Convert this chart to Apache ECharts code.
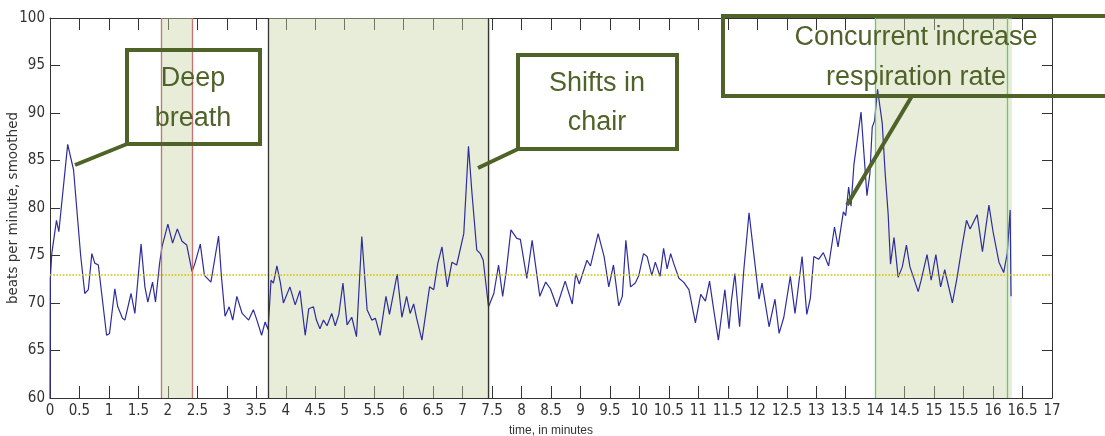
<!DOCTYPE html>
<html>
<head>
<meta charset="utf-8">
<script src="https://cdn.jsdelivr.net/npm/echarts@6/dist/echarts.min.js"></script>
<style>
  html, body { margin: 0; padding: 0; background: #fff; }
  #chart { width: 1105px; height: 436px; }
</style>
</head>
<body>
<div id="chart"></div>
<script>
// heart rate trace (minutes / beats per minute)
const timeMin = [
  0, 0.005, 0.03, 0.11, 0.15, 0.30, 0.40, 0.48, 0.52, 0.59, 0.65, 0.71, 0.76, 0.82, 0.96, 1.01,
  1.10, 1.15, 1.23, 1.27, 1.375, 1.44, 1.545, 1.61, 1.66, 1.74, 1.79, 1.86, 1.90, 2.00, 2.08,
  2.16, 2.24, 2.32, 2.41, 2.46, 2.55, 2.62, 2.73, 2.86, 2.91, 2.97, 3.04, 3.10, 3.17, 3.26,
  3.37, 3.45, 3.51, 3.59, 3.65, 3.70, 3.75, 3.79, 3.85, 3.91, 3.96, 4.07, 4.16, 4.24, 4.33,
  4.39, 4.47, 4.52, 4.58, 4.64, 4.70, 4.78, 4.84, 4.90, 4.97, 5.04, 5.12, 5.20, 5.29, 5.38,
  5.46, 5.52, 5.60, 5.70, 5.76, 5.89, 5.97, 6.05, 6.11, 6.17, 6.22, 6.31, 6.44, 6.51, 6.58,
  6.65, 6.74, 6.82, 6.90, 7.02, 7.10, 7.16, 7.24, 7.30, 7.35, 7.44, 7.53, 7.61, 7.68, 7.74,
  7.82, 7.92, 7.98, 8.09, 8.18, 8.31, 8.41, 8.49, 8.60, 8.74, 8.86, 8.92, 8.98, 9.11, 9.17,
  9.30, 9.40, 9.48, 9.56, 9.65, 9.71, 9.77, 9.85, 9.93, 9.99, 10.07, 10.13, 10.21, 10.27, 10.35,
  10.41, 10.47, 10.53, 10.58, 10.67, 10.75, 10.84, 10.95, 11.04, 11.12, 11.19, 11.26, 11.34, 11.39, 11.45,
  11.52, 11.56, 11.62, 11.70, 11.77, 11.86, 11.94, 12.03, 12.08, 12.20, 12.30, 12.37, 12.45, 12.56, 12.64,
  12.76, 12.84, 12.90, 12.96, 13.04, 13.12, 13.21, 13.31, 13.37, 13.46, 13.50, 13.55, 13.59, 13.64, 13.76,
  13.81, 13.86, 13.91, 13.95, 13.99, 14.04, 14.12, 14.17, 14.22, 14.26, 14.32, 14.39, 14.46, 14.53, 14.59,
  14.65, 14.73, 14.78, 14.88, 14.95, 15.03, 15.11, 15.18, 15.31, 15.39, 15.48, 15.55, 15.61, 15.73, 15.82,
  15.93, 16.00, 16.10, 16.18, 16.24, 16.29, 16.305
];
const bpm = [
  60, 72.5, 75.2, 78.7, 77.5, 86.7, 84.0, 78.0, 75.0, 71.0, 71.4, 75.2, 74.2, 74.0, 66.6, 66.8,
  71.5, 69.6, 68.4, 68.2, 71.0, 68.9, 76.2, 71.7, 70.1, 72.2, 70.1, 74.2, 75.9, 78.3, 76.3,
  77.8, 76.5, 76.1, 73.3, 74.2, 76.2, 72.9, 72.2, 77.05, 72.7, 68.6, 69.6, 68.2, 70.7, 68.9,
  68.2, 69.3, 68.2, 66.6, 68.0, 67.2, 72.4, 72.1, 73.9, 72.1, 70.0, 71.7, 69.8, 71.3, 66.6,
  69.4, 69.6, 68.2, 67.3, 68.2, 67.6, 68.9, 67.6, 68.8, 72.1, 67.7, 68.5, 66.45, 77.0, 69.3,
  68.2, 68.4, 66.6, 70.7, 68.8, 73.05, 68.5, 70.7, 68.9, 69.9, 68.4, 66.1, 71.7, 71.4, 74.2,
  75.9, 71.7, 74.3, 74.0, 77.3, 86.5, 81.5, 75.6, 75.2, 74.5, 69.6, 71.0, 74.0, 70.7, 73.3,
  77.7, 76.8, 76.7, 72.6, 76.6, 70.7, 72.2, 71.5, 69.6, 72.3, 69.9, 73.1, 72.0, 74.5, 73.9,
  77.3, 74.9, 71.7, 74.0, 69.7, 70.7, 76.6, 71.7, 72.1, 72.9, 75.2, 74.9, 72.9, 74.3, 72.8,
  75.75, 73.6, 75.2, 74.2, 72.6, 72.2, 71.4, 67.9, 70.9, 70.2, 72.3, 69.3, 66.1, 68.5, 71.4,
  67.3, 70.2, 73.1, 67.5, 73.4, 79.5, 75.2, 70.4, 72.1, 67.5, 70.4, 66.8, 68.5, 72.8, 68.9,
  74.9, 68.8, 70.5, 74.9, 74.6, 75.3, 73.9, 78.0, 75.9, 79.6, 79.2, 82.2, 80.2, 84.6, 90.1,
  85.7, 81.3, 83.6, 88.5, 89.2, 92.5, 88.9, 83.6, 79.4, 74.1, 76.9, 72.7, 73.8, 76.1, 73.8,
  72.7, 71.2, 72.4, 75.1, 72.4, 75.1, 71.7, 73.5, 70.0, 72.7, 76.2, 78.7, 77.8, 79.3, 75.4,
  80.3, 77.5, 74.3, 73.2, 75.2, 79.8, 70.7
];
const meanBpm = 73;

// shaded episodes [start, end] and their edge lines
const shadedRegions = [[1.88, 2.41], [3.70, 7.47], [14.0, 16.32]];
const edgeTimes = [1.88, 2.41, 3.70, 7.43, 14.0, 16.24];
const edgeColors = ['#cc7070', '#cc7070', '#333333', '#333333', '#66cc66', '#66cc66'];

const xTicks = { min: 0, max: 17, interval: 0.5 };
const yTicks = { min: 60, max: 100, interval: 5 };

const green = '#4f6228';
const annoFont = '27px "Liberation Sans", Arial, sans-serif';

let myChart = echarts.init(document.getElementById('chart'));

const axisX = {
  type: 'value',
  min: xTicks.min, max: xTicks.max, interval: xTicks.interval,
  axisLine: { show: true, onZero: false, lineStyle: { color: '#333', width: 1 } },
  axisTick: { inside: true, length: 12, lineStyle: { color: '#333' } },
  splitLine: { show: false }
};
const axisY = {
  type: 'value',
  min: yTicks.min, max: yTicks.max, interval: yTicks.interval,
  axisLine: { show: true, onZero: false, lineStyle: { color: '#333', width: 1 } },
  axisTick: { inside: true, length: 10, lineStyle: { color: '#333' } },
  splitLine: { show: false }
};
const labelFont = { color: '#333', fontSize: 15, fontFamily: '"Liberation Sans Narrow", "DejaVu Sans Condensed", "Liberation Sans", sans-serif' };

let option = {
  animation: false,
  backgroundColor: '#fff',
  grid: { left: 50, right: 53, top: 18, bottom: 38, containLabel: false, outerBoundsMode: 'none' },
  xAxis: [
    Object.assign({}, axisX, {
      position: 'bottom',
      axisLabel: Object.assign({ margin: 6 }, labelFont),
      name: 'time, in minutes',
      nameLocation: 'middle',
      nameGap: 27,
      nameMoveOverlap: false,
      nameTextStyle: { color: '#333', fontSize: 12, fontFamily: 'Liberation Sans, Arial, sans-serif' }
    }),
    Object.assign({}, axisX, { position: 'top', axisLabel: { show: false } })
  ],
  yAxis: [
    Object.assign({}, axisY, {
      position: 'left',
      axisLabel: Object.assign({ margin: 5 }, labelFont),
      name: 'beats per minute, smoothed',
      nameLocation: 'middle',
      nameGap: 30,
      nameMoveOverlap: false,
      nameTextStyle: { color: '#333', fontSize: 13.5, fontFamily: '"DejaVu Sans", sans-serif' }
    }),
    Object.assign({}, axisY, { position: 'right', axisLabel: { show: false } })
  ],
  series: [
    {
      type: 'line',
      z: 2,
      symbol: 'none',
      data: timeMin.map((t, i) => [t, bpm[i]]),
      lineStyle: { color: '#2d2d9b', width: 1.2 },
      markLine: {
        silent: true,
        symbol: 'none',
        label: { show: false },
        lineStyle: { color: '#d2c000', type: 'dotted', width: 1.6 },
        data: [{ yAxis: meanBpm }]
      }
    },
    {
      // shading drawn above the trace so the trace looks washed out inside it
      type: 'line',
      z: 3,
      data: [],
      markArea: {
        silent: true,
        itemStyle: { color: 'rgba(200,212,168,0.42)' },
        data: shadedRegions.map(r => [{ xAxis: r[0] }, { xAxis: r[1] }])
      },
      markLine: {
        silent: true,
        symbol: 'none',
        label: { show: false },
        data: edgeTimes.map((t, i) => ({ xAxis: t, lineStyle: { color: edgeColors[i], width: 1.3, type: 'solid' } }))
      }
    }
  ],
  graphic: [
    // Deep breath
    { type: 'rect', z: 100, shape: { x: 127, y: 50, width: 133, height: 94 }, style: { fill: 'none', stroke: green, lineWidth: 4 } },
    { type: 'line', z: 100, shape: { x1: 127, y1: 144, x2: 75, y2: 165 }, style: { stroke: green, lineWidth: 4 } },
    { type: 'text', z: 100, x: 193, y: 79, style: { text: 'Deep', font: annoFont, fill: green, align: 'center', verticalAlign: 'middle' } },
    { type: 'text', z: 100, x: 193, y: 119, style: { text: 'breath', font: annoFont, fill: green, align: 'center', verticalAlign: 'middle' } },
    // Shifts in chair
    { type: 'rect', z: 100, shape: { x: 518, y: 55, width: 159, height: 94 }, style: { fill: 'none', stroke: green, lineWidth: 4 } },
    { type: 'line', z: 100, shape: { x1: 518, y1: 149, x2: 478, y2: 168 }, style: { stroke: green, lineWidth: 4 } },
    { type: 'text', z: 100, x: 597, y: 84, style: { text: 'Shifts in', font: annoFont, fill: green, align: 'center', verticalAlign: 'middle' } },
    { type: 'text', z: 100, x: 597, y: 123, style: { text: 'chair', font: annoFont, fill: green, align: 'center', verticalAlign: 'middle' } },
    // Concurrent increase respiration rate
    { type: 'rect', z: 100, shape: { x: 723, y: 16, width: 420, height: 80 }, style: { fill: 'none', stroke: green, lineWidth: 4 } },
    { type: 'line', z: 100, shape: { x1: 912, y1: 96, x2: 847, y2: 205 }, style: { stroke: green, lineWidth: 4 } },
    { type: 'text', z: 100, x: 916, y: 38, style: { text: 'Concurrent increase', font: annoFont, fill: green, align: 'center', verticalAlign: 'middle' } },
    { type: 'text', z: 100, x: 916, y: 78, style: { text: 'respiration rate', font: annoFont, fill: green, align: 'center', verticalAlign: 'middle' } }
  ]
};

myChart.setOption(option);
</script>
</body>
</html>
